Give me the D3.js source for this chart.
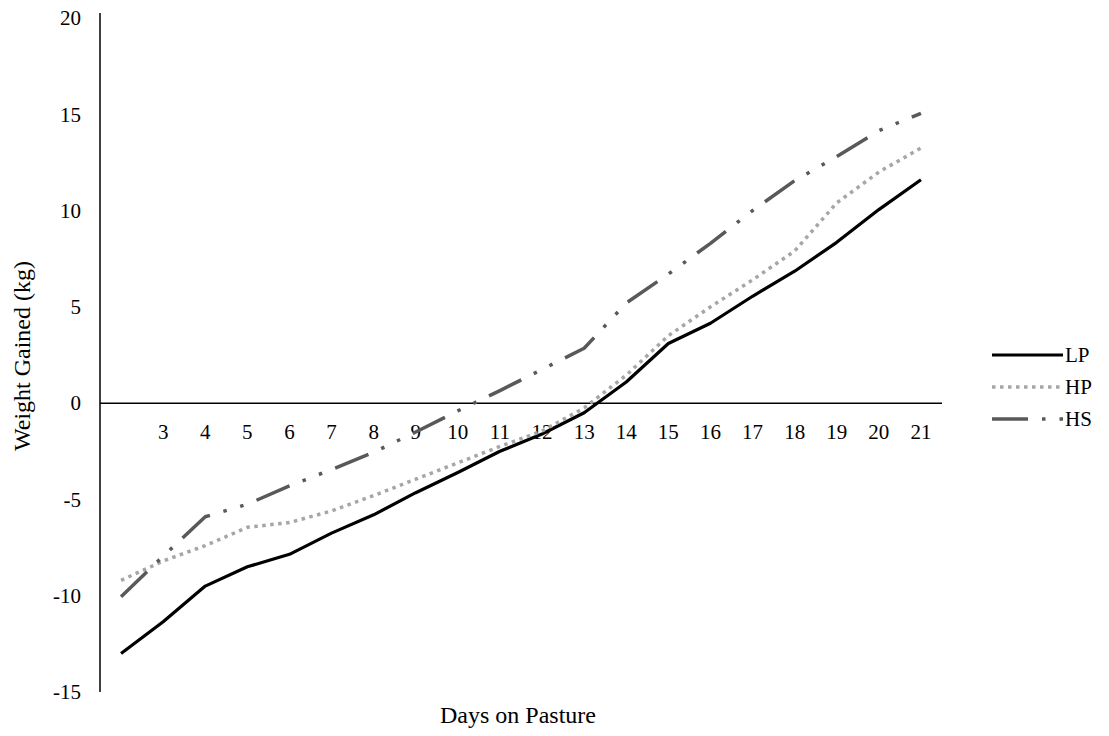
<!DOCTYPE html>
<html><head><meta charset="utf-8">
<script src="https://cdn.jsdelivr.net/npm/d3@7"></script>
<style>body{margin:0;background:#fff}svg{display:block}text{font-family:"Liberation Serif","Times New Roman",serif;fill:#000}</style>
</head><body>
<svg id="c" width="1109" height="736"></svg>
<script>
const days = [2,3,4,5,6,7,8,9,10,11,12,13,14,15,16,17,18,19,20,21];
const dayLabels = ["","3","4","5","6","7","8","9","10","11","12","13","14","15","16","17","18","19","20","21"];
const LP = [-13.0,-11.35,-9.5,-8.5,-7.85,-6.75,-5.8,-4.65,-3.6,-2.5,-1.6,-0.5,1.1,3.1,4.15,5.55,6.85,8.35,10.05,11.6];
const HP = [-9.2,-8.2,-7.4,-6.45,-6.2,-5.6,-4.8,-3.95,-3.1,-2.25,-1.45,-0.25,1.45,3.5,5.0,6.4,7.9,10.4,12.0,13.25];
const HS = [-10.05,-7.95,-5.9,-5.25,-4.3,-3.45,-2.55,-1.5,-0.4,0.65,1.75,2.85,5.2,6.7,8.3,10.0,11.55,12.8,14.15,15.05];
const seriesNames = ["LP","HP","HS"];
const yTicks = [-15,-10,-5,0,5,10,15,20];

(function(){
const svg = d3.select("#c");
const pL = 100, pR = 942, pT = 18, pB = 692;
const x = d3.scaleBand().domain(days).range([pL, pR]);
const y = d3.scaleLinear().domain([-15, 20]).range([pB, pT]);
const cx = d => x(d) + x.bandwidth()/2;
const serif = "Liberation Serif, Times New Roman, serif";

const styles = {
  LP: {stroke:"#000", width:3.2, dash:null},
  HP: {stroke:"#A6A6A6", width:3.5, dash:"3.5,4.5"},
  HS: {stroke:"#595959", width:3.5, dash:"36,14,3.5,14,3.5,14"}
};

const yAxis = d3.axisLeft(y).tickValues(yTicks).tickSize(0).tickPadding(19).tickFormat(d => String(d));
const gy = svg.append("g").attr("transform", `translate(${pL},0)`).call(yAxis);
gy.select(".domain").attr("stroke","#000").attr("stroke-width",1.5).attr("d", `M0,${pT-5}V${pB}`);
gy.selectAll("text").attr("font-size",21).attr("font-family",serif).attr("fill","#000");

const xAxis = d3.axisBottom(x).tickFormat((d,i)=>dayLabels[i]).tickSize(0);
const gx = svg.append("g").attr("transform", `translate(0,${y(0)})`).call(xAxis);
gx.select(".domain").attr("stroke","#000").attr("stroke-width",1.5).attr("d", `M${pL},0H${pR}`);
gx.selectAll("text").attr("font-size",21).attr("font-family",serif).attr("fill","#000").attr("dy",null).attr("y",36);

const data = {LP, HP, HS};
const line = d3.line().x((d,i)=>cx(days[i])).y(d=>y(d));
seriesNames.forEach(n => {
  const s = styles[n];
  svg.append("path").datum(data[n]).attr("d", line)
    .attr("fill","none").attr("stroke",s.stroke).attr("stroke-width",s.width)
    .attr("stroke-dasharray", s.dash).attr("stroke-linejoin","round");
});

const legY = [355, 387, 419];
seriesNames.forEach((n,i) => {
  const s = styles[n];
  svg.append("line").attr("x1",992).attr("x2",1063).attr("y1",legY[i]).attr("y2",legY[i])
    .attr("stroke",s.stroke).attr("stroke-width",s.width).attr("stroke-dasharray", s.dash);
  svg.append("text").attr("x",1065).attr("y",legY[i]+7).attr("font-size",21).attr("font-family",serif).text(n);
});

svg.append("text").attr("x",518).attr("y",723).attr("text-anchor","middle").attr("font-size",24).attr("font-family",serif).text("Days on Pasture");
svg.append("text").attr("transform","translate(30,356) rotate(-90)").attr("text-anchor","middle").attr("font-size",24).attr("font-family",serif).text("Weight Gained (kg)");
})();
</script>
</body></html>
